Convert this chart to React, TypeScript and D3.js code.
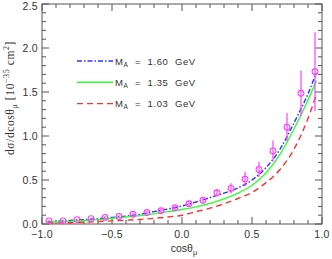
import React, { useRef, useEffect } from 'react';
import * as d3 from 'd3';

// measured points (cos theta, value, error)
const dataCos = [-0.95, -0.85, -0.75, -0.65, -0.55, -0.45, -0.35, -0.25, -0.15, -0.05,
  0.05, 0.15, 0.25, 0.35, 0.45, 0.55, 0.65, 0.75, 0.85, 0.95];
const dataVal = [0.035, 0.035, 0.05, 0.06, 0.075, 0.085, 0.11, 0.13, 0.15, 0.185,
  0.23, 0.27, 0.355, 0.405, 0.51, 0.62, 0.83, 1.10, 1.485, 1.73];
const dataErr = [0.01, 0.01, 0.01, 0.012, 0.015, 0.015, 0.02, 0.02, 0.025, 0.03,
  0.035, 0.03, 0.04, 0.057, 0.085, 0.085, 0.12, 0.16, 0.26, 0.45];

// model curves
const curveCos = [-0.96, -0.9, -0.8, -0.7, -0.6, -0.5, -0.4, -0.3, -0.2, -0.1, 0.0,
  0.1, 0.2, 0.3, 0.4, 0.5, 0.6, 0.7, 0.8, 0.9, 0.96];
const blueVals = [0.025, 0.03, 0.04, 0.05, 0.06, 0.075, 0.09, 0.11, 0.14, 0.17, 0.205,
  0.25, 0.30, 0.35, 0.41, 0.50, 0.64, 0.85, 1.15, 1.48, 1.72];
const greenVals = [0.02, 0.025, 0.03, 0.04, 0.05, 0.065, 0.08, 0.095, 0.115, 0.14, 0.165,
  0.195, 0.235, 0.285, 0.35, 0.44, 0.58, 0.79, 1.08, 1.41, 1.63];
const redVals = [0.01, 0.012, 0.015, 0.02, 0.028, 0.035, 0.043, 0.052, 0.065, 0.08, 0.10,
  0.14, 0.18, 0.23, 0.29, 0.36, 0.47, 0.62, 0.85, 1.20, 1.47];

const legendLabels = ['1.60', '1.35', '1.03'];
const legendColors = ['#3030ff', '#30ff30', '#ff3030'];
const legendDash = ['5,2,1.5,2', '', '6,4'];

const xTicks = [-1.0, -0.5, 0.0, 0.5, 1.0];
const yTicks = [0.0, 0.5, 1.0, 1.5, 2.0, 2.5];

export default function App() {
  const ref = useRef<SVGSVGElement>(null);

  useEffect(() => {
    document.body.style.margin = '0';
    const svg = d3.select(ref.current);
    svg.selectAll('*').remove();

    const margin = { top: 4, right: 10, bottom: 35, left: 42 };
    const width = 332 - margin.left - margin.right,
      height = 259 - margin.top - margin.bottom;

    const g = svg.append('g').attr('transform', `translate(${margin.left},${margin.top})`);

    const x = d3.scaleLinear().domain([-1, 1]).range([0, width]);
    const y = d3.scaleLinear().domain([0, 2.5]).range([height, 0]);

    const font = 'Liberation Sans, Arial, sans-serif';
    const axisColor = '#555';

    // frame
    g.append('rect').attr('width', width).attr('height', height)
      .attr('fill', 'none').attr('stroke', axisColor).attr('stroke-width', 1);

    // ticks (inward), all four sides
    const minorX = d3.range(-10, 11).map(i => i / 10);
    const minorY = d3.range(0, 26).map(i => i / 10);
    minorX.forEach(v => {
      const major = Math.abs(v * 2 - Math.round(v * 2)) < 1e-6;
      const len = major ? 7 : 4;
      g.append('line').attr('x1', x(v)).attr('x2', x(v)).attr('y1', height).attr('y2', height - len)
        .attr('stroke', axisColor);
      g.append('line').attr('x1', x(v)).attr('x2', x(v)).attr('y1', 0).attr('y2', len)
        .attr('stroke', axisColor);
    });
    minorY.forEach(v => {
      const major = Math.abs(v * 2 - Math.round(v * 2)) < 1e-6;
      const len = major ? 7 : 4;
      g.append('line').attr('y1', y(v)).attr('y2', y(v)).attr('x1', 0).attr('x2', len)
        .attr('stroke', axisColor);
      g.append('line').attr('y1', y(v)).attr('y2', y(v)).attr('x1', width).attr('x2', width - len)
        .attr('stroke', axisColor);
    });

    // tick labels
    g.selectAll('.xl').data(xTicks).enter().append('text')
      .attr('x', d => x(d)).attr('y', height + 14)
      .attr('text-anchor', 'middle').attr('font-family', font).attr('font-size', 10.5)
      .attr('letter-spacing', 0.3).attr('fill', '#333')
      .text(d => (d < 0 ? '\u2212' : '') + Math.abs(d).toFixed(1));
    g.selectAll('.yl').data(yTicks).enter().append('text')
      .attr('x', -4).attr('y', d => Math.max(y(d) + 4, 6))
      .attr('text-anchor', 'end').attr('font-family', font).attr('font-size', 10.5)
      .attr('letter-spacing', 0.3).attr('fill', '#333')
      .text(d => d.toFixed(1));

    // axis titles
    const xt = svg.append('text').attr('x', 184).attr('y', 252)
      .attr('text-anchor', 'middle').attr('font-family', font).attr('font-size', 10.5).attr('fill', '#333');
    xt.append('tspan').text('cos\u03b8');
    xt.append('tspan').attr('dy', 3).attr('font-size', 7.5).text('\u03bc');

    const yt = svg.append('text').attr('transform', 'translate(14,98) rotate(-90)')
      .attr('text-anchor', 'middle').attr('font-family', 'Liberation Serif, serif').attr('font-size', 11.5)
      .attr('letter-spacing', 0.6).attr('fill', '#333');
    yt.append('tspan').text('d\u03c3/dcos\u03b8');
    yt.append('tspan').attr('dy', 3).attr('font-size', 8).text('\u03bc');
    yt.append('tspan').attr('dy', -3).text(' [10');
    yt.append('tspan').attr('dy', -5).attr('font-size', 8).text('\u221235');
    yt.append('tspan').attr('dy', 5).text(' cm');
    yt.append('tspan').attr('dy', -5).attr('font-size', 8).text('2');
    yt.append('tspan').attr('dy', 5).text(']');

    // curves
    const line = d3.line<number>()
      .x((d, i) => x(curveCos[i]))
      .y(d => y(d))
      .curve(d3.curveMonotoneX);
    [blueVals, greenVals, redVals].forEach((vals, k) => {
      g.append('path').datum(vals).attr('d', line)
        .attr('fill', 'none').attr('stroke', legendColors[k]).attr('stroke-width', 1.4)
        .attr('stroke-dasharray', legendDash[k] || null);
    });

    // data points with error bars
    const pts = g.selectAll('.pt').data(dataVal).enter().append('g');
    pts.append('line')
      .attr('x1', (d, i) => x(dataCos[i])).attr('x2', (d, i) => x(dataCos[i]))
      .attr('y1', (d, i) => y(d + dataErr[i])).attr('y2', (d, i) => y(d - dataErr[i]))
      .attr('stroke', '#ff40ff').attr('stroke-width', 1.2);
    pts.append('circle')
      .attr('cx', (d, i) => x(dataCos[i])).attr('cy', d => y(d)).attr('r', 2.9)
      .attr('fill', 'none').attr('stroke', '#ff40ff').attr('stroke-width', 1.1);

    // legend
    legendLabels.forEach((lab, k) => {
      const ly = 61 + k * 21.3;
      svg.append('line').attr('x1', 77).attr('x2', 113).attr('y1', ly).attr('y2', ly)
        .attr('stroke', legendColors[k]).attr('stroke-width', 1.4)
        .attr('stroke-dasharray', legendDash[k] || null);
      const t = svg.append('text').attr('x', 115).attr('y', ly + 3.5)
        .attr('font-family', font).attr('font-size', 9.5).attr('fill', '#333')
        .attr('letter-spacing', 0.6).attr('xml:space', 'preserve');
      t.append('tspan').text('M');
      t.append('tspan').attr('dy', 2).attr('font-size', 6.5).text('A');
      t.append('tspan').attr('dy', -2).text('  =  ' + lab + '  GeV');
    });
  }, []);

  return (
    <div style={{ position: 'absolute', left: 0, top: 0 }}>
      <svg ref={ref} width={332} height={259} style={{ display: 'block', background: '#fff' }} />
    </div>
  );
}
